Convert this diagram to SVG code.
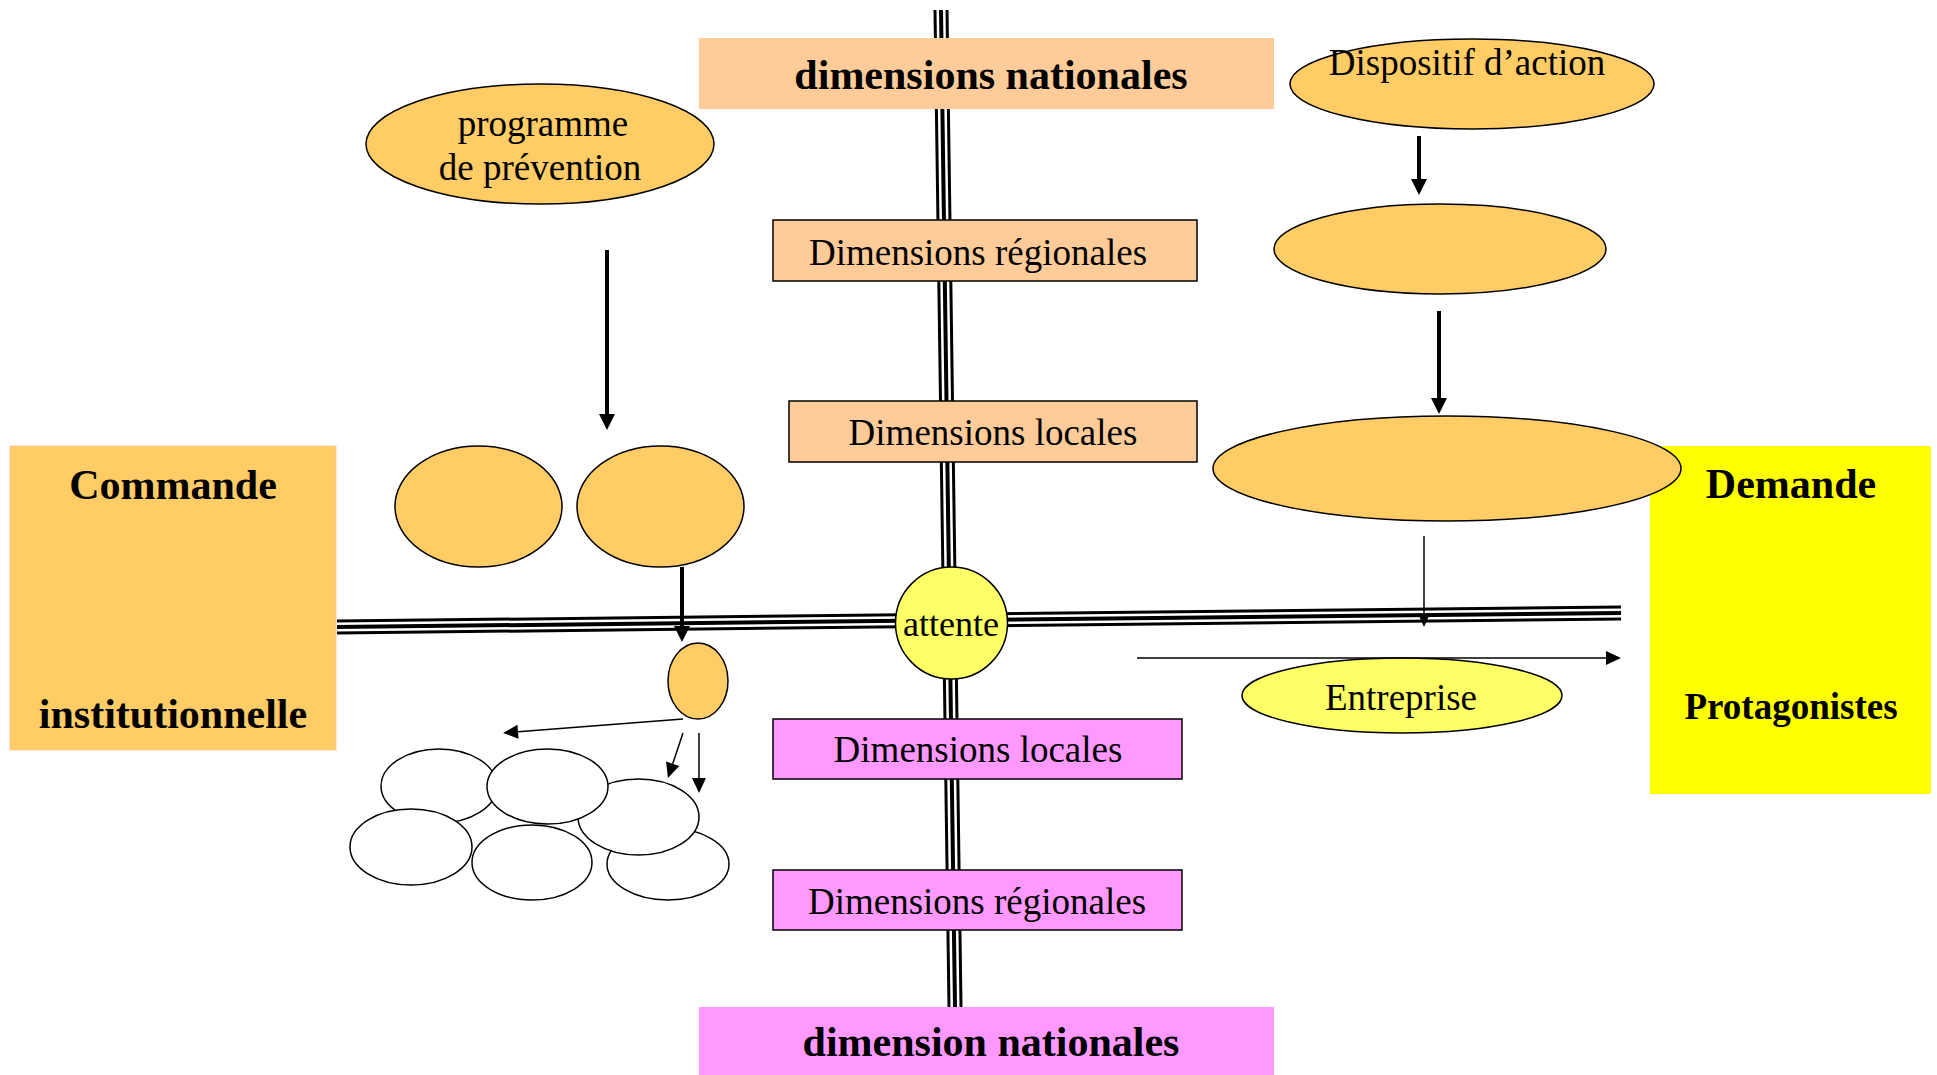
<svg xmlns="http://www.w3.org/2000/svg" width="1937" height="1075" viewBox="0 0 1937 1075">
<style>
.t{font-family:"Liberation Serif","Times New Roman",serif;fill:#000;text-anchor:middle}
.b{font-weight:bold;font-size:42px}
.r{font-size:37px}
.or{fill:#FFCC66;stroke:#000;stroke-width:1.5}
.pe{fill:#FFCC99;stroke:#000;stroke-width:1.5}
.pk{fill:#FF99FF;stroke:#000;stroke-width:1.5}
.wh{fill:#fff;stroke:#000;stroke-width:1.5}
.ax1{fill:none;stroke:#000;stroke-width:15}
.ax2{fill:none;stroke:#fff;stroke-width:9}
.ax3{fill:none;stroke:#000;stroke-width:4}
.thick{fill:none;stroke:#000;stroke-width:4}
.thin{fill:none;stroke:#000;stroke-width:1.5}
</style>
<defs>
<marker id="big" markerUnits="userSpaceOnUse" markerWidth="16" markerHeight="16" refX="0" refY="8" orient="auto" overflow="visible"><path d="M0,0 L16,8 L0,16 z" fill="#000"/></marker>
<marker id="sm" markerUnits="userSpaceOnUse" markerWidth="15" markerHeight="14" refX="0" refY="7" orient="auto" overflow="visible"><path d="M0,0 L15,7 L0,14 z" fill="#000"/></marker>
<marker id="tiny" markerUnits="userSpaceOnUse" markerWidth="10" markerHeight="9" refX="0" refY="4.5" orient="auto" overflow="visible"><path d="M0,0 L10,4.5 L0,9 z" fill="#000"/></marker>
</defs>
<rect width="1937" height="1075" fill="#fff"/>
<g id="axes">
<path class="ax1" d="M941,10 L955,1007"/>
<path class="ax2" d="M941,10 L955,1007"/>
<path class="ax3" d="M941,10 L955,1007"/>
<path class="ax1" d="M337,627 L1621,613"/>
<path class="ax2" d="M337,627 L1621,613"/>
<path class="ax3" d="M337,627 L1621,613"/>
</g>
<g id="nodes">
<g id="nat-top"><rect x="699" y="38" width="575" height="71" fill="#FFCC99"/><text class="t b" x="991" y="89" font-size="43">dimensions nationales</text></g>
<g id="reg-top"><rect class="pe" x="773" y="220" width="424" height="61"/><text class="t r" x="978" y="265">Dimensions régionales</text></g>
<g id="loc-top"><rect class="pe" x="789" y="401" width="408" height="61"/><text class="t r" x="993" y="445">Dimensions locales</text></g>
<g id="loc-bot"><rect class="pk" x="773" y="719" width="409" height="60"/><text class="t r" x="978" y="762">Dimensions locales</text></g>
<g id="reg-bot"><rect class="pk" x="773" y="870" width="409" height="60"/><text class="t r" x="977" y="914">Dimensions régionales</text></g>
<g id="nat-bot"><rect x="699" y="1007" width="575" height="68" fill="#FF99FF"/><text class="t b" x="991" y="1056" font-size="43">dimension nationales</text></g>
<g id="commande"><rect x="10" y="446" width="326" height="304" fill="#FFCC66" stroke="#FFCC99" stroke-width="1"/><text class="t b" x="173" y="499">Commande</text><text class="t b" x="173" y="728">institutionnelle</text></g>
<g id="demande"><rect x="1650" y="446" width="281" height="348" fill="#FFFF00"/><text class="t b" x="1791" y="498">Demande</text><text class="t" x="1791" y="719" font-size="37" font-weight="bold">Protagonistes</text></g>
<g id="programme"><ellipse class="or" cx="540" cy="144" rx="174" ry="60"/><text class="t r" x="543" y="136">programme</text><text class="t r" x="540" y="180">de prévention</text></g>
<g id="ov-l1"><ellipse class="or" cx="478.5" cy="506.5" rx="83.5" ry="60.5"/></g>
<g id="ov-l2"><ellipse class="or" cx="660.5" cy="506.5" rx="83.5" ry="60.5"/></g>
<g id="ov-small"><ellipse class="or" cx="698" cy="681" rx="30" ry="38"/></g>
<g id="w1"><ellipse class="wh" cx="439" cy="786" rx="58" ry="37"/></g>
<g id="w4"><ellipse class="wh" cx="411" cy="847" rx="61" ry="38"/></g>
<g id="w6"><ellipse class="wh" cx="668" cy="864" rx="61" ry="36"/></g>
<g id="w5"><ellipse class="wh" cx="532" cy="862.5" rx="60" ry="37.5"/></g>
<g id="w3"><ellipse class="wh" cx="638.5" cy="817" rx="60.5" ry="38"/></g>
<g id="w2"><ellipse class="wh" cx="547.5" cy="786.5" rx="60.5" ry="37.5"/></g>
<g id="attente"><circle cx="951.5" cy="623" r="56" fill="#FFFF66" stroke="#000" stroke-width="1.5"/><text class="t" x="951" y="636" font-size="36">attente</text></g>
<g id="dispositif"><ellipse class="or" cx="1472" cy="84" rx="182" ry="45"/><text class="t r" x="1467" y="75">Dispositif d’action</text></g>
<g id="ov-r2"><ellipse class="or" cx="1440" cy="249" rx="166" ry="45"/></g>
<g id="ov-r3"><ellipse class="or" cx="1447" cy="468.5" rx="234" ry="52.5"/></g>
<g id="entreprise"><ellipse cx="1402" cy="695.5" rx="160" ry="37.5" fill="#FFFF66" stroke="#000" stroke-width="1.5"/><text class="t r" x="1401" y="710">Entreprise</text></g>
</g>
<g id="connectors">
<path class="thick" d="M607,250 L607,414" marker-end="url(#big)"/>
<path class="thick" d="M682,567 L682,626" marker-end="url(#big)"/>
<path class="thick" d="M1419,136 L1419,179" marker-end="url(#big)"/>
<path class="thick" d="M1439,311 L1439,398" marker-end="url(#big)"/>
<path class="thin" d="M683,719 L518,731.8" marker-end="url(#sm)"/>
<path class="thin" d="M683,733 L672.7,763.8" marker-end="url(#sm)"/>
<path class="thin" d="M699,733 L699,778" marker-end="url(#sm)"/>
<path class="thin" d="M1424,536 L1424,617" marker-end="url(#tiny)"/>
<path class="thin" d="M1137,658 L1606,658" marker-end="url(#sm)"/>
</g>
</svg>
